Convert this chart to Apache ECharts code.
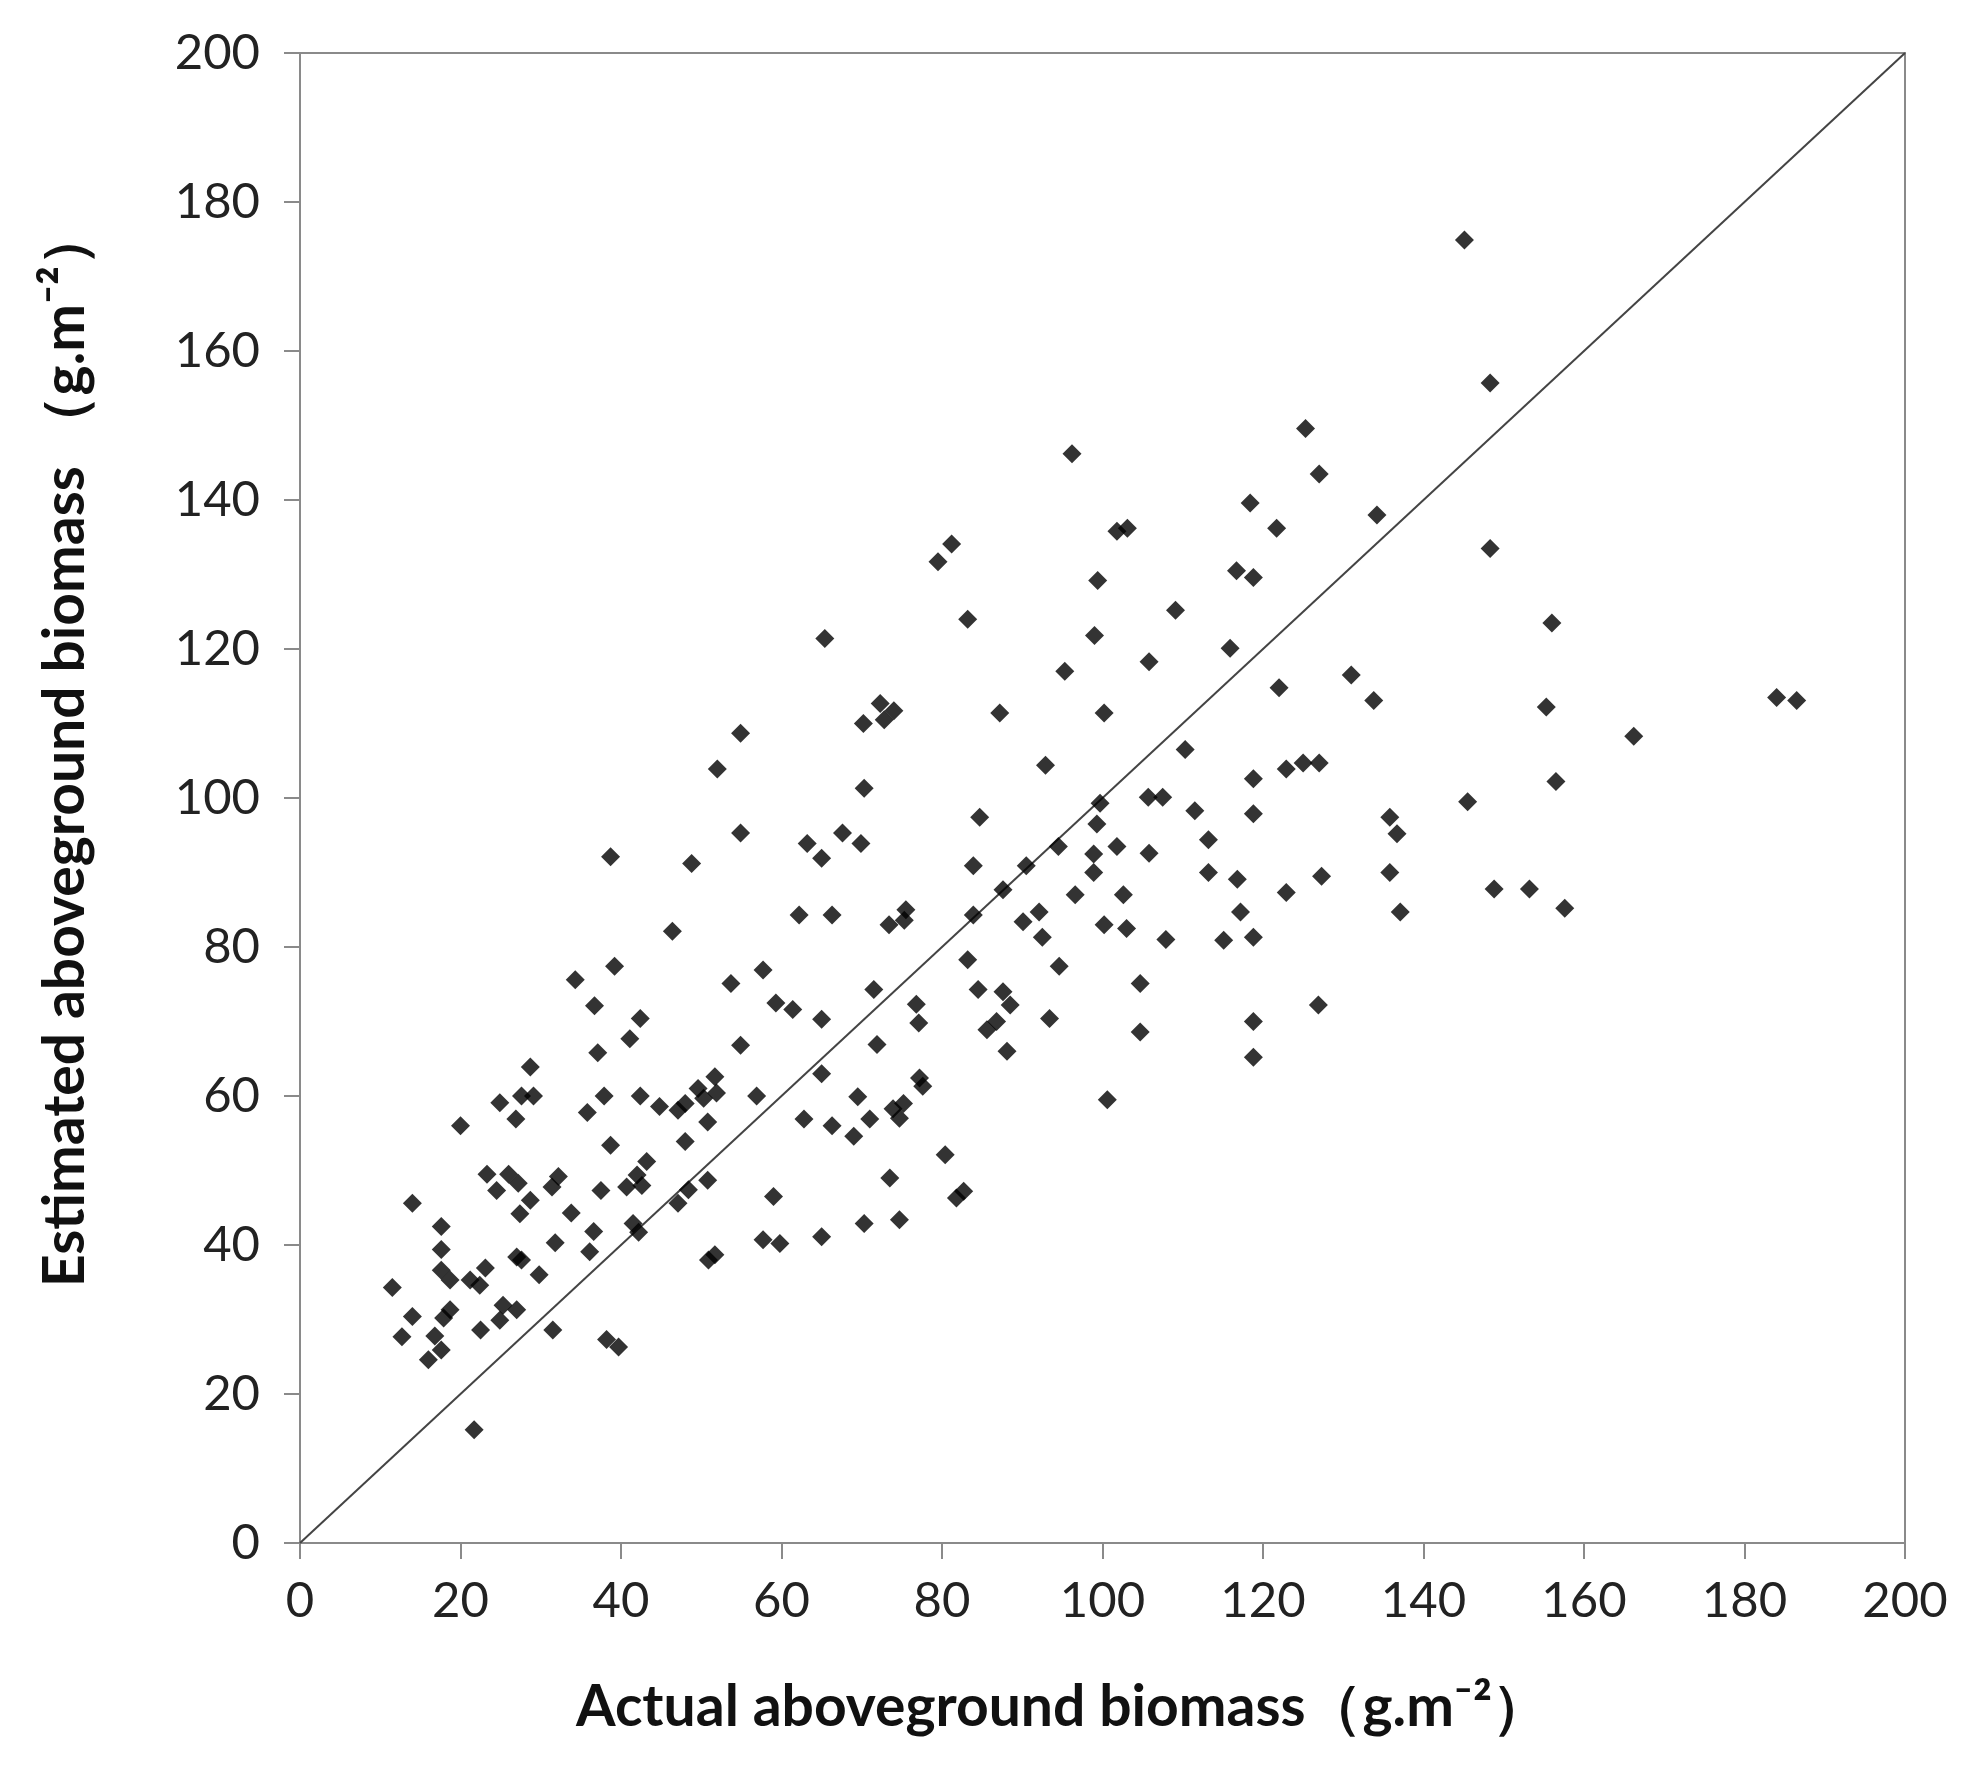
<!DOCTYPE html>
<html>
<head>
<meta charset="utf-8">
<script src="https://cdn.jsdelivr.net/npm/echarts@6/dist/echarts.min.js"></script>
<style>
  html, body { margin: 0; padding: 0; background: #fff; }
  #chart { width: 1969px; height: 1779px; }
</style>
</head>
<body>
<div id="chart"></div>
<script>
// actual aboveground biomass (x)
var actual = [
  28.7, 37.1, 54.9, 24.9, 27.6, 29.1, 26.9, 20.0, 35.8, 37.9, 42.4, 44.8,
  51.7, 49.6, 51.9, 48.0, 47.1, 50.3, 56.9, 62.8, 50.8, 38.7, 48.0, 23.3,
  26.0, 27.2, 24.5, 28.7, 27.4, 32.2, 31.4, 37.5, 43.2, 42.0, 40.7, 42.6,
  50.8, 48.4, 47.1, 59.0, 14.0, 17.6, 17.6, 33.8, 36.6, 31.8, 27.0, 27.6,
  36.1, 41.5, 42.2, 57.7, 59.8, 50.9, 51.7, 17.6, 18.7, 11.5, 21.2, 22.4,
  23.1, 29.8, 18.7, 17.9, 14.0, 25.3, 27.0, 24.9, 22.5, 31.5, 12.7, 16.8,
  17.6, 16.0, 38.2, 39.7, 21.7,
  54.9, 52.0, 54.9, 38.7, 48.8, 46.4, 39.2, 34.3, 57.7, 53.7, 59.3, 61.4,
  36.7, 42.4, 41.1,
  65.0, 83.9, 90.5, 98.9, 105.8, 98.9, 113.2, 116.8, 87.6, 96.6, 102.6, 117.2,
  62.2, 66.3, 75.5, 75.3, 73.4, 83.9, 90.1, 92.1, 100.2, 103.0, 92.5, 107.9,
  115.1, 118.8, 83.2, 94.6, 104.7, 71.5, 84.5, 87.6, 88.5, 76.8, 77.1, 65.0,
  93.4, 86.8, 85.6, 104.7, 118.8, 71.9, 88.1, 118.8, 65.0, 77.2, 77.6, 69.5,
  75.2, 73.9, 74.7, 66.3, 71.0, 69.0, 100.6, 80.4, 73.5, 82.7, 81.8, 70.3,
  74.7, 65.0,
  96.2, 118.4, 101.8, 103.1, 81.2, 79.5, 99.4, 116.7, 118.8, 83.2, 65.4, 109.1,
  99.0, 115.9, 105.8, 95.3, 72.3, 74.0, 72.8, 70.2, 87.2, 100.2, 110.3, 92.9,
  70.3, 118.8, 99.7, 105.7, 107.5, 84.7, 99.3, 111.5, 118.8, 67.6, 63.2, 69.9,
  94.5, 101.8, 113.2,
  156.0, 131.0, 122.0, 133.8, 155.3, 166.2, 122.9, 125.0, 127.0, 156.5, 145.5, 135.8,
  136.7, 127.3, 122.9, 135.8, 137.1, 148.8, 153.2, 157.6, 126.9,
  145.1, 148.3, 125.3, 127.0, 121.7, 134.2, 148.3,
  184.0, 186.5
];

// estimated aboveground biomass (y), same order
var estimated = [
  63.9, 65.8, 66.8, 59.1, 60.0, 60.0, 56.9, 56.0, 57.8, 60.0, 60.0, 58.6,
  62.6, 61.0, 60.4, 59.0, 58.1, 59.7, 60.0, 56.9, 56.5, 53.4, 53.9, 49.5,
  49.5, 48.3, 47.3, 46.0, 44.2, 49.2, 47.8, 47.3, 51.2, 49.4, 47.8, 48.0,
  48.7, 47.4, 45.6, 46.5, 45.6, 42.5, 39.4, 44.3, 41.8, 40.3, 38.4, 38.0,
  39.1, 42.9, 41.7, 40.7, 40.2, 38.0, 38.7, 36.6, 35.3, 34.3, 35.3, 34.6,
  36.9, 36.0, 31.3, 30.2, 30.4, 31.9, 31.3, 29.9, 28.6, 28.6, 27.7, 27.8,
  25.9, 24.6, 27.3, 26.3, 15.2,
  108.7, 103.9, 95.3, 92.1, 91.2, 82.1, 77.4, 75.6, 76.9, 75.1, 72.5, 71.6,
  72.1, 70.4, 67.7,
  91.9, 90.9, 90.9, 92.5, 92.6, 90.0, 90.0, 89.1, 87.7, 87.0, 87.0, 84.7,
  84.3, 84.3, 85.0, 83.6, 83.0, 84.3, 83.4, 84.7, 83.0, 82.5, 81.3, 81.0,
  80.9, 81.3, 78.3, 77.4, 75.1, 74.3, 74.3, 74.0, 72.2, 72.3, 69.8, 70.3,
  70.4, 70.0, 68.9, 68.6, 70.0, 66.9, 66.0, 65.2, 63.0, 62.4, 61.3, 59.9,
  59.0, 58.3, 57.0, 56.0, 56.9, 54.6, 59.5, 52.1, 49.0, 47.2, 46.3, 42.9,
  43.4, 41.1,
  146.2, 139.6, 135.8, 136.2, 134.1, 131.7, 129.2, 130.5, 129.6, 124.0, 121.4, 125.2,
  121.8, 120.1, 118.3, 117.0, 112.7, 111.7, 110.5, 110.0, 111.4, 111.4, 106.5, 104.4,
  101.3, 102.6, 99.3, 100.1, 100.1, 97.4, 96.5, 98.3, 97.9, 95.3, 93.9, 93.9,
  93.5, 93.5, 94.4,
  123.5, 116.5, 114.8, 113.1, 112.2, 108.3, 103.9, 104.7, 104.7, 102.2, 99.5, 97.4,
  95.2, 89.5, 87.3, 90.0, 84.7, 87.8, 87.8, 85.2, 72.2,
  174.9, 155.7, 149.6, 143.5, 136.2, 138.0, 133.5,
  113.5, 113.1
];

// 1:1 reference line ends
var oneToOne = [0, 200];

var axisMin = 0;
var axisMax = 200;
var axisStep = 20;

var points = [];
for (var i = 0; i < actual.length; i++) {
    points.push([actual[i], estimated[i]]);
}

var chart = echarts.init(document.getElementById('chart'));

var tickFont = {
    color: '#222',
    fontFamily: 'Lato',
    fontSize: 49
};
var titleFont = {
    color: '#111',
    fontFamily: 'Lato',
    fontWeight: 'bold',
    fontSize: 57
};

chart.setOption({
    backgroundColor: '#fff',
    animation: false,
    grid: {
        left: 300,
        right: 64,
        top: 53,
        bottom: 236,
        show: true,
        borderColor: '#8a8a8a',
        borderWidth: 2
    },
    xAxis: {
        type: 'value',
        min: axisMin,
        max: axisMax,
        interval: axisStep,
        name: 'Actual aboveground biomass（g.m⁻²）',
        nameLocation: 'middle',
        nameGap: 136,
        nameTextStyle: Object.assign({ padding: [0, 80, 0, 0] }, titleFont),
        axisLine: { lineStyle: { color: '#8a8a8a', width: 2 } },
        axisTick: { length: 16, lineStyle: { color: '#8a8a8a', width: 2 } },
        axisLabel: Object.assign({ margin: 34 }, tickFont),
        splitLine: { show: false }
    },
    yAxis: {
        type: 'value',
        min: axisMin,
        max: axisMax,
        interval: axisStep,
        name: 'Estimated aboveground biomass （g.m⁻²）',
        nameLocation: 'middle',
        nameGap: 206,
        nameTextStyle: Object.assign({ padding: [0, 0, 0, 100] }, titleFont),
        axisLine: { lineStyle: { color: '#8a8a8a', width: 2 } },
        axisTick: { length: 16, lineStyle: { color: '#8a8a8a', width: 2 } },
        axisLabel: Object.assign({ margin: 40 }, tickFont),
        splitLine: { show: false }
    },
    series: [
        {
            type: 'line',
            data: [[oneToOne[0], oneToOne[0]], [oneToOne[1], oneToOne[1]]],
            symbol: 'none',
            silent: true,
            lineStyle: { color: '#444', width: 2 },
            z: 1
        },
        {
            type: 'scatter',
            data: points,
            symbol: 'diamond',
            symbolSize: [19, 19],
            itemStyle: { color: '#000' },
            z: 2
        }
    ]
});
</script>
</body>
</html>
